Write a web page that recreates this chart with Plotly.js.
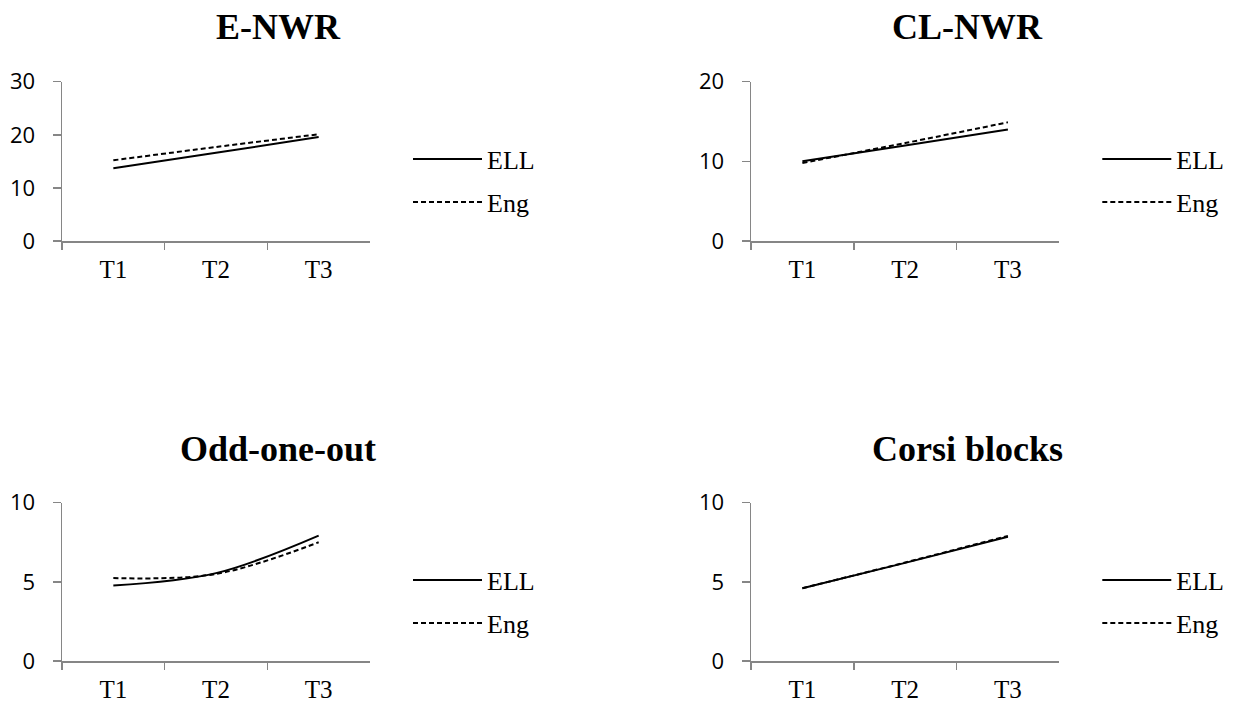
<!DOCTYPE html>
<html>
<head>
<meta charset="utf-8">
<script src="https://cdn.plot.ly/plotly-3.0.1.min.js"></script>
<style>html,body{margin:0;padding:0;background:#fff;}#chart{width:1237px;height:704px;}</style>
</head>
<body>
<div id="chart"></div>
<script>
// ---- data ----
var timepoints = ["T1", "T2", "T3"];
var seriesNames = ["ELL", "Eng"];
var panelTitles = ["E-NWR", "CL-NWR", "Odd-one-out", "Corsi blocks"];
var enwrELL = [13.7, 16.6, 19.6];
var enwrEng = [15.2, 17.7, 20.1];
var clnwrELL = [10.0, 12.0, 14.0];
var clnwrEng = [9.8, 12.3, 14.9];
var oddELL = [4.77, 5.55, 7.92];
var oddEng = [5.24, 5.5, 7.5];
var corsiELL = [4.6, 6.2, 7.85];
var corsiEng = [4.6, 6.22, 7.9];
var yMax = [30, 20, 10, 10];
var yStep = [10, 10, 5, 5];

var W = 1237, H = 704;
function px(x){ return x / W; }
function py(y){ return 1 - y / H; }

var SERIF = "Liberation Serif";
var SANS = "Open Sans";

// panel geometry (pixels)
var panels = [
  {x0: 62, x1: 370, yTop: 81.7, yBot: 241},
  {x0: 751, x1: 1059.3, yTop: 81.7, yBot: 241},
  {x0: 62, x1: 370, yTop: 502.7, yBot: 661},
  {x0: 751, x1: 1059.3, yTop: 502.7, yBot: 661}
];
var dataSets = [[enwrELL, enwrEng], [clnwrELL, clnwrEng], [oddELL, oddEng], [corsiELL, corsiEng]];

var traces = [];
var layout = {
  width: W, height: H,
  margin: {l: 0, r: 0, t: 0, b: 0},
  paper_bgcolor: "#ffffff",
  plot_bgcolor: "#ffffff",
  font: {family: SERIF, size: 24, color: "#000"},
  showlegend: true,
  annotations: []
};

var titleY = [27, 27, 449, 449];
var titleX = [278, 967, 278, 967];

for (var i = 0; i < 4; i++) {
  var suffix = i === 0 ? "" : String(i + 1);
  var xa = "x" + suffix, ya = "y" + suffix;
  var legName = i === 0 ? "legend" : "legend" + (i + 1);
  var p = panels[i];
  for (var s = 0; s < 2; s++) {
    traces.push({
      type: "scatter",
      mode: "lines",
      x: timepoints,
      y: dataSets[i][s],
      name: seriesNames[s],
      xaxis: xa, yaxis: ya,
      legend: legName,
      legendgroup: "g" + s,
      line: {color: "#000000", width: 2, shape: "spline", smoothing: 1,
             dash: s === 0 ? "solid" : "5px,3px"},
      hoverinfo: "skip"
    });
  }
  layout["xaxis" + suffix] = {
    domain: [px(p.x0), px(p.x1)],
    anchor: ya,
    type: "category",
    range: [-0.5, 2.5],
    tickson: "boundaries",
    ticks: "outside", ticklen: 7, tickwidth: 1.5, tickcolor: "#868686",
    showline: true, linecolor: "#868686", linewidth: 1.5,
    showgrid: false, zeroline: false,
    tickfont: {family: SERIF, size: 25, color: "#000"},
    ticklabelstandoff: 5,
    automargin: false, fixedrange: true
  };
  layout["yaxis" + suffix] = {
    domain: [py(p.yBot), py(p.yTop)],
    anchor: xa,
    range: [0, yMax[i]],
    dtick: yStep[i], tick0: 0,
    ticks: "outside", ticklen: 8, tickwidth: 1.5, tickcolor: "#868686",
    showline: true, linecolor: "#868686", linewidth: 1.5,
    showgrid: false, zeroline: false,
    tickfont: {family: SANS, size: 22, color: "#000"},
    ticklabelstandoff: 13,
    automargin: false, fixedrange: true
  };
  layout[legName] = {
    x: px(p.x1 + 38), y: py(p.yTop + 54),
    xanchor: "left", yanchor: "top",
    traceorder: "grouped",
    tracegroupgap: 6,
    itemwidth: 69,
    font: {family: SERIF, size: 26, color: "#000"},
    bgcolor: "rgba(0,0,0,0)",
    borderwidth: 0
  };
  layout.annotations.push({
    text: "<b>" + panelTitles[i] + "</b>",
    xref: "paper", yref: "paper",
    x: px(titleX[i]), y: py(titleY[i]),
    xanchor: "center", yanchor: "middle",
    showarrow: false,
    font: {family: SERIF, size: 36, color: "#000"}
  });
}

Plotly.newPlot("chart", traces, layout, {displayModeBar: false, staticPlot: true});
</script>
</body>
</html>
